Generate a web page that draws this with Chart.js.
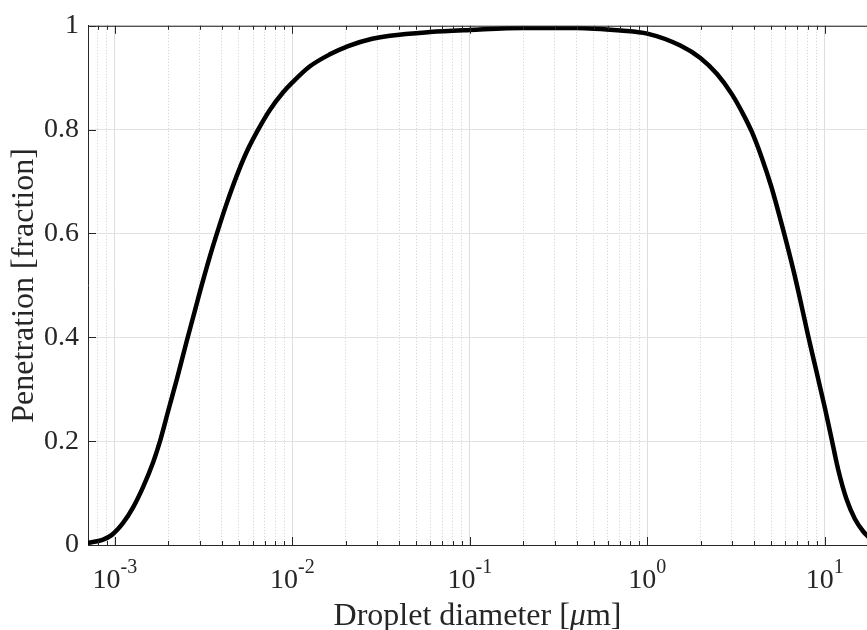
<!DOCTYPE html>
<html>
<head>
    <title>Droplet penetration</title>
    <script src="https://cdn.jsdelivr.net/npm/chart.js"></script>
    <style>
        body { margin: 0; background: #fff; }
        #chart { display: block; }
    </style>
</head>
<body>
    <canvas id="chart" width="867" height="630"></canvas>

    <script>
        // Droplet diameter [um] and penetration fraction
        const diameter = [7.05e-4, 8.51e-4, 9.57e-4, 1.114e-3, 1.268e-3, 1.442e-3, 1.644e-3, 1.795e-3, 2.009e-3, 2.228e-3,
                          2.535e-3, 2.825e-3, 3.013e-3, 3.428e-3, 3.819e-3, 4.256e-3, 4.842e-3, 5.521e-3, 6.412e-3, 7.464e-3,
                          8.872e-3, 1e-2, 1.256e-2, 1.626e-2, 2.061e-2, 2.818e-2, 3.548e-2, 5.957e-2, 0.1, 0.1995,
                          0.398, 0.708, 1, 1.535, 1.991, 2.472, 3.013, 3.491, 3.89, 4.426,
                          5.0, 5.861, 6.683, 7.278, 8.072, 8.995, 10.02, 10.84, 11.91, 13.27,
                          14.79, 16.48, 17.95];
        const penetration = [0.004, 0.010, 0.019, 0.043, 0.073, 0.112, 0.160, 0.200, 0.262, 0.318,
                             0.392, 0.452, 0.488, 0.556, 0.608, 0.657, 0.710, 0.757, 0.800, 0.838,
                             0.872, 0.891, 0.922, 0.945, 0.961, 0.975, 0.981, 0.988, 0.992, 0.996,
                             0.996, 0.991, 0.985, 0.962, 0.938, 0.907, 0.867, 0.828, 0.795, 0.745,
                             0.690, 0.604, 0.527, 0.472, 0.402, 0.333, 0.264, 0.210, 0.145, 0.088,
                             0.050, 0.026, 0.013];

        const xMin = 7.05e-4;
        const xMax = 17.3;
        const xDecades = [1e-3, 1e-2, 1e-1, 1, 10];
        const xDecadeExp = ['-3', '-2', '-1', '0', '1'];
        const yTicks = [0, 0.2, 0.4, 0.6, 0.8, 1];
        const yTickLabels = ['0', '0.2', '0.4', '0.6', '0.8', '1'];

        const serif = '"Liberation Serif", "Times New Roman", serif';
        const ink = '#262626';

        // minor log ticks (2..9 of each decade) inside the axis range
        const xTickList = [];
        [1e-4, 1e-3, 1e-2, 1e-1, 1, 10].forEach(d => {
            for (let k = 1; k <= 9; k++) {
                const v = k * d;
                if (v >= xMin && v <= xMax) {
                    xTickList.push({ value: v, major: k === 1 });
                }
            }
        });

        // MATLAB style: inward ticks, top box line, 10^n labels, axis title with italic mu
        const axisDecor = {
            id: 'axisDecor',
            afterDraw(chart) {
                const { ctx, chartArea: a, scales: { x, y } } = chart;
                ctx.save();
                ctx.strokeStyle = ink;
                ctx.lineWidth = 1;
                ctx.beginPath();
                ctx.moveTo(a.left, a.top + 0.5);
                ctx.lineTo(a.right, a.top + 0.5);
                x.ticks.forEach(t => {
                    const px = Math.round(x.getPixelForValue(t.value)) + 0.5;
                    const len = t.major ? 8 : 4;
                    ctx.moveTo(px, a.bottom);
                    ctx.lineTo(px, a.bottom - len);
                    ctx.moveTo(px, a.top);
                    ctx.lineTo(px, a.top + len);
                });
                y.ticks.forEach(t => {
                    const py = Math.round(y.getPixelForValue(t.value)) + 0.5;
                    ctx.moveTo(a.left, py);
                    ctx.lineTo(a.left + 8, py);
                });
                ctx.stroke();

                ctx.fillStyle = ink;
                ctx.textBaseline = 'alphabetic';
                ctx.textAlign = 'left';
                xDecades.forEach((v, i) => {
                    const px = x.getPixelForValue(v);
                    ctx.font = '28px ' + serif;
                    const wBase = ctx.measureText('10').width;
                    ctx.font = '20px ' + serif;
                    const wExp = ctx.measureText(xDecadeExp[i]).width;
                    const x0 = px - (wBase + wExp) / 2;
                    ctx.font = '28px ' + serif;
                    ctx.fillText('10', x0, 588);
                    ctx.font = '20px ' + serif;
                    ctx.fillText(xDecadeExp[i], x0 + wBase, 573);
                });

                const parts = [
                    ['Droplet diameter [', '32px ' + serif],
                    ['\u03bc', 'italic 32px ' + serif],
                    ['m]', '32px ' + serif]
                ];
                let total = 0;
                parts.forEach(p => { ctx.font = p[1]; total += ctx.measureText(p[0]).width; });
                let tx = (a.left + a.right) / 2 - total / 2;
                parts.forEach(p => {
                    ctx.font = p[1];
                    ctx.fillText(p[0], tx, 625);
                    tx += ctx.measureText(p[0]).width;
                });
                ctx.restore();
            }
        };

        new Chart(document.getElementById('chart'), {
            type: 'line',
            data: {
                datasets: [{
                    data: diameter.map((d, i) => ({ x: d, y: penetration[i] })),
                    borderColor: '#000000',
                    borderWidth: 4.5,
                    pointRadius: 0,
                    fill: false,
                    cubicInterpolationMode: 'monotone'
                }]
            },
            options: {
                responsive: false,
                animation: false,
                layout: { padding: { top: 23, left: 0, right: 0, bottom: 0 } },
                plugins: {
                    legend: { display: false },
                    tooltip: { enabled: false }
                },
                scales: {
                    x: {
                        type: 'logarithmic',
                        min: xMin,
                        max: xMax,
                        afterBuildTicks: scale => { scale.ticks = xTickList.map(t => ({ ...t })); },
                        afterFit: scale => { scale.height = 85; },
                        ticks: { display: false },
                        grid: {
                            drawTicks: false,
                            lineWidth: 1,
                            color: ctx => (ctx.tick && ctx.tick.major) ? '#dedede' : '#cfcfcf'
                        },
                        border: {
                            display: true,
                            color: ink,
                            width: 1,
                            dash: ctx => (ctx.tick && !ctx.tick.major) ? [1, 2] : []
                        }
                    },
                    y: {
                        min: 0,
                        max: 1,
                        afterBuildTicks: scale => { scale.ticks = yTicks.map(v => ({ value: v })); },
                        afterFit: scale => { scale.width = 88; },
                        ticks: {
                            padding: 9,
                            color: ink,
                            font: { family: serif, size: 28 },
                            callback: (v, i) => yTickLabels[i]
                        },
                        grid: { drawTicks: false, color: '#e3e3e3', lineWidth: 1 },
                        border: { display: true, color: ink, width: 1 },
                        title: {
                            display: true,
                            text: 'Penetration [fraction]',
                            color: ink,
                            font: { family: serif, size: 32 },
                            padding: { top: 5, bottom: 0 }
                        }
                    }
                }
            },
            plugins: [axisDecor]
        });
    </script>
</body>
</html>
